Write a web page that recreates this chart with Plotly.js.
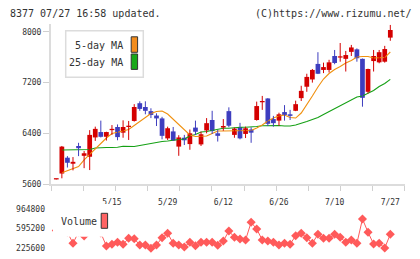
<!DOCTYPE html>
<html>
<head>
<meta charset="utf-8">
<script src="https://cdn.plot.ly/plotly-3.0.1.min.js"></script>
<style>
  html, body { margin: 0; padding: 0; background: #fff; }
  #chart { width: 420px; height: 259px; }
</style>
</head>
<body>
<div id="chart"></div>
<script>
// Daily prices for 8377 (61 sessions up to 07/27)
const opens = [5672, 5765, 6015, 5920, 6200, 6045, 6030, 6335, 6420, 6345,
               6450, 6500, 6410, 6500, 6595, 6875, 6815, 6750, 6680, 6635,
               6320, 6430, 6190, 6330, 6230, 6490, 6225, 6445, 6610, 6400,
               6490, 6750, 6375, 6500, 6390, 6460, 6610, 6890, 6950, 6625,
               6600, 6735, 6700, 6755, 6955, 7135, 7250, 7495, 7400, 7400,
               7620, 7595, 7575, 7685, 7725, 7575, 7055, 7540, 7520, 7530,
               7910];
const highs = [5680, 6200, 6040, 6025, 6250, 6120, 6450, 6505, 6600, 6425,
               6530, 6540, 6605, 6595, 6860, 6905, 6905, 6795, 6715, 6660,
               6505, 6500, 6370, 6375, 6460, 6600, 6425, 6640, 6755, 6450,
               6625, 6810, 6490, 6565, 6505, 6495, 6900, 6990, 6955, 6675,
               6725, 6845, 6770, 6915, 7150, 7340, 7415, 7680, 7515, 7560,
               7715, 7825, 7700, 7795, 7740, 7580, 7420, 7715, 7715, 7780,
               8110];
const lows = [5672, 5690, 5860, 5815, 6040, 5850, 5820, 6280, 6335, 6285,
              6375, 6290, 6330, 6295, 6585, 6755, 6700, 6640, 6515, 6305,
              6295, 6280, 6045, 6215, 6140, 6375, 6200, 6400, 6390, 6270,
              6440, 6495, 6330, 6305, 6325, 6250, 6600, 6770, 6515, 6505,
              6520, 6600, 6610, 6750, 6910, 7055, 7200, 7335, 7350, 7360,
              7490, 7530, 7375, 7620, 7530, 6820, 7030, 7375, 7505, 7515,
              7860];
const closes = [5680, 6190, 5935, 5950, 6165, 6085, 6375, 6470, 6345, 6420,
                6470, 6340, 6500, 6515, 6815, 6785, 6755, 6690, 6635, 6360,
                6480, 6285, 6335, 6290, 6400, 6425, 6385, 6560, 6435, 6360,
                6515, 6520, 6475, 6320, 6480, 6410, 6830, 6900, 6550, 6560,
                6700, 6690, 6675, 6860, 7070, 7290, 7400, 7340, 7445, 7520,
                7510, 7610, 7635, 7755, 7585, 6960, 7415, 7620, 7680, 7730,
                8030];

// Moving averages as published with the chart
const ma5 = [null, 5778, 5810, 5837, 5876, 5979, 6066, 6160, 6247, 6326,
             6397, 6413, 6436, 6460, 6523, 6586, 6657, 6712, 6744, 6752,
             6705, 6626, 6539, 6452, 6373, 6350, 6350, 6357, 6397, 6436,
             6436, 6436, 6436, 6436, 6444, 6444, 6484, 6531, 6594, 6641,
             6673, 6689, 6649, 6641, 6720, 6847, 6989, 7131, 7257, 7344,
             7407, 7454, 7509, 7549, 7604, 7612, 7612, 7588, 7588, 7596,
             7683];
const ma25 = [null, 6137, 6137, 6137, 6137, 6137, 6144, 6168, 6176, 6176,
              6176, 6179, 6195, 6189, 6192, 6208, 6223, 6247, 6263, 6271,
              6279, 6294, 6302, 6310, 6357, 6381, 6421, 6428, 6444, 6468,
              6479, 6479, 6492, 6495, 6495, 6499, 6507, 6520, 6523, 6523,
              6523, 6515, 6515, 6531, 6555, 6586, 6618, 6649, 6697, 6744,
              6791, 6839, 6886, 6926, 6973, 6989, 7028, 7075, 7139, 7186,
              7252];

// Daily volume (shares)
const volumes = [560000, 964800, 528000, 320000, 530000, 457000, 600000, 545000, 513000, 269000,
                 300800, 338500, 300800, 413700, 406200, 287700, 287700, 225600, 287700, 425000,
                 507700, 319600, 287700, 250100, 338500, 274500, 338500, 338500, 338500, 282000,
                 362900, 551000, 432500, 400500, 381700, 714600, 588600, 381700, 362900, 338500,
                 287700, 319600, 300800, 462600, 507700, 425000, 319600, 488900, 413700, 413700,
                 488900, 432500, 338500, 381700, 319600, 776700, 526500, 306500, 319600, 231000,
                 488900];

// Date labels and the session number each one belongs to
const labelDays = [11, 21, 31, 41, 51, 61];
const dateLabels = ['5/15', '5/29', '6/12', '6/26', '7/10', '7/27'];
const priceTicks = [5600, 6400, 7200, 8000];
const volumeTicks = [225600, 595200, 964800];

const UP = '#d40000', DOWN = '#3e3ebf';
const MONO = '"DejaVu Sans Mono", "Liberation Mono", monospace';
const W = 420, H = 259;
const px = v => v / W;            // horizontal pixel -> paper
const py = v => 1 - v / H;        // vertical pixel -> paper

const days = closes.map((_, i) => i + 1);
const rising = closes.map((c, i) => c >= opens[i]);

// candle bodies as floating bars
const bodyBase = closes.map((c, i) => Math.min(c, opens[i]));
const bodyLen = closes.map((c, i) => Math.max(Math.abs(c - opens[i]), 20));
const bodyColor = rising.map(u => (u ? UP : DOWN));

// wicks: one segment per session, grouped by colour
function wicks(up) {
  const x = [], y = [];
  days.forEach((d, i) => {
    if (rising[i] === up) { x.push(d, d, null); y.push(lows[i], highs[i], null); }
  });
  return { x, y };
}
const wUp = wicks(true), wDown = wicks(false);

const xRange = [0.05, 63.64];
const divisions = [];
for (let k = 0; k <= 11; k++) {
  let v = xRange[0] + k * (xRange[1] - xRange[0]) / 11;
  if (k === 0) v += 0.02;
  if (k === 11) v -= 0.02;
  divisions.push(v);
}

const traces = [
  { type: 'scatter', mode: 'lines', x: days, y: ma25, line: { color: '#14a014', width: 1.1 },
    xaxis: 'x', yaxis: 'y', hoverinfo: 'skip' },
  { type: 'scatter', mode: 'lines', x: days, y: ma5, line: { color: '#f0900f', width: 1.1 },
    xaxis: 'x', yaxis: 'y', hoverinfo: 'skip' },
  { type: 'scatter', mode: 'lines', x: wUp.x, y: wUp.y, line: { color: UP, width: 1 },
    xaxis: 'x', yaxis: 'y', hoverinfo: 'skip', connectgaps: false },
  { type: 'scatter', mode: 'lines', x: wDown.x, y: wDown.y, line: { color: DOWN, width: 1 },
    xaxis: 'x', yaxis: 'y', hoverinfo: 'skip', connectgaps: false },
  { type: 'bar', x: days, y: bodyLen, base: bodyBase, width: 0.85,
    marker: { color: bodyColor, line: { width: 0 } }, xaxis: 'x', yaxis: 'y', hoverinfo: 'skip' },
  { type: 'scatter', mode: 'lines+markers', x: days, y: volumes,
    line: { color: '#ff5a5a', width: 1 },
    marker: { symbol: 'diamond', size: 7, color: '#ff5a5a' },
    xaxis: 'x2', yaxis: 'y2', cliponaxis: false, hoverinfo: 'skip' }
];

const axisFont = { family: MONO, size: 8, color: '#333' };

const layout = {
  width: W, height: H,
  margin: { l: 0, r: 0, t: 0, b: 0 },
  paper_bgcolor: '#fff', plot_bgcolor: '#fff',
  showlegend: false,
  hovermode: false,
  xaxis: {
    domain: [px(51), px(405)], range: xRange, anchor: 'y',
    showgrid: false, zeroline: false,
    showline: true, linecolor: '#dcdcdc', linewidth: 2,
    tickmode: 'array', tickvals: labelDays, ticktext: dateLabels,
    ticks: '', ticklabelstandoff: 9, tickfont: axisFont,
    minor: { tickmode: 'array', tickvals: divisions, ticks: 'outside',
             ticklen: 5, tickcolor: '#d0d0d0', tickwidth: 1, showgrid: false }
  },
  yaxis: {
    domain: [py(184), py(24)], range: [5600, 8125], anchor: 'x',
    showgrid: false, zeroline: false,
    showline: true, linecolor: '#dcdcdc', linewidth: 2,
    tickmode: 'array', tickvals: priceTicks,
    ticks: 'outside', ticklen: 6, tickcolor: '#d0d0d0', tickwidth: 1,
    tickfont: axisFont
  },
  xaxis2: {
    domain: [px(51), px(405)], range: xRange, anchor: 'y2',
    visible: false
  },
  yaxis2: {
    domain: [py(248.3), py(209)], range: [225600, 964800], anchor: 'x2',
    showgrid: false, zeroline: false, showline: false,
    tickmode: 'array', tickvals: volumeTicks, ticktext: volumeTicks.map(String),
    ticks: '', ticklabelstandoff: 5, tickfont: axisFont
  },
  shapes: [
    // price legend frame and swatches
    { type: 'rect', xref: 'paper', yref: 'paper', layer: 'above',
      x0: px(65.7), x1: px(143.3), y0: py(77.3), y1: py(30.7),
      line: { color: '#dcdcdc', width: 1.5 }, fillcolor: '#fff' },
    { type: 'rect', xref: 'paper', yref: 'paper', layer: 'above',
      x0: px(131.2), x1: px(137.6), y0: py(52.3), y1: py(36.8),
      line: { color: '#333', width: 1 }, fillcolor: '#f28c1c' },
    { type: 'rect', xref: 'paper', yref: 'paper', layer: 'above',
      x0: px(131.2), x1: px(137.6), y0: py(69.4), y1: py(54),
      line: { color: '#333', width: 1 }, fillcolor: '#18a818' },
    // volume legend panel and swatch
    { type: 'rect', xref: 'paper', yref: 'paper', layer: 'above',
      x0: px(53), x1: px(110), y0: py(236.7), y1: py(204),
      line: { width: 0 }, fillcolor: '#fff' },
    { type: 'rect', xref: 'paper', yref: 'paper', layer: 'above',
      x0: px(101.2), x1: px(107.6), y0: py(228.3), y1: py(213.3),
      line: { color: '#333', width: 1 }, fillcolor: '#ff6464' }
  ],
  annotations: [
    { xref: 'paper', yref: 'paper', x: px(8), y: py(13.5), xanchor: 'left', yanchor: 'middle',
      text: '8377 07/27 16:58 updated.', showarrow: false,
      font: { family: MONO, size: 10, color: '#333' } },
    { xref: 'paper', yref: 'paper', x: px(414), y: py(13.5), xanchor: 'right', yanchor: 'middle',
      text: '(C)https://www.rizumu.net/', showarrow: false,
      font: { family: MONO, size: 10, color: '#333' } },
    { xref: 'paper', yref: 'paper', x: px(125), y: py(45.5), xanchor: 'right', yanchor: 'middle',
      text: '5-day MA', showarrow: false,
      font: { family: MONO, size: 10, color: '#333' } },
    { xref: 'paper', yref: 'paper', x: px(125), y: py(62.5), xanchor: 'right', yanchor: 'middle',
      text: '25-day MA', showarrow: false,
      font: { family: MONO, size: 10, color: '#333' } },
    { xref: 'paper', yref: 'paper', x: px(58.5), y: py(221.5), xanchor: 'left', yanchor: 'middle',
      text: 'Volume', showarrow: false,
      font: { family: MONO, size: 10, color: '#333' } }
  ]
};

Plotly.newPlot('chart', traces, layout, { staticPlot: true, displayModeBar: false });
</script>
</body>
</html>
